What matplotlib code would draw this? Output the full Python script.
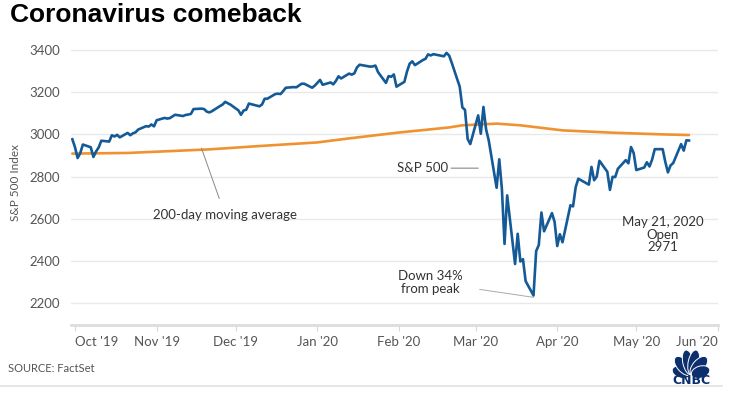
import matplotlib
matplotlib.use("Agg")
import matplotlib.pyplot as plt
from matplotlib.patches import Ellipse
import pandas as pd
import numpy as np

# S&P 500 daily values, Sep 30 2019 - May 21 2020 (last point = May 21 open)
sep19 = [2977]
oct19 = [2940, 2888, 2911, 2952, 2939, 2893, 2919, 2938, 2970, 2966, 2996, 2990,
         2998, 2986, 3007, 2996, 3005, 3010, 3023, 3039, 3037, 3047, 3038]
nov19 = [3067, 3078, 3075, 3077, 3085, 3093, 3087, 3092, 3094, 3097, 3120, 3122,
         3120, 3108, 3104, 3110, 3134, 3141, 3154, 3141]
dec19 = [3114, 3093, 3113, 3117, 3146, 3136, 3133, 3142, 3169, 3169, 3191, 3193,
         3191, 3205, 3221, 3224, 3223, 3240, 3240, 3221, 3231]
jan20 = [3258, 3235, 3246, 3237, 3253, 3275, 3265, 3288, 3283, 3289, 3317, 3330,
         3321, 3322, 3326, 3295, 3244, 3276, 3273, 3284, 3226]
feb20 = [3249, 3298, 3335, 3346, 3328, 3352, 3358, 3379, 3374, 3380, 3370, 3386,
         3373, 3338, 3226, 3128, 3116, 2979, 2954]
mar20 = [3090, 3003, 3130, 3024, 2972, 2747, 2882, 2741, 2481, 2711, 2386, 2529,
         2398, 2409, 2305, 2237, 2447, 2476, 2630, 2541, 2627, 2585]
apr20 = [2471, 2527, 2489, 2664, 2659, 2750, 2790, 2762, 2846, 2783, 2800, 2875,
         2823, 2737, 2799, 2798, 2837, 2878, 2863, 2940, 2912]
may20 = [2831, 2843, 2868, 2848, 2881, 2930, 2930, 2870, 2820, 2853, 2864, 2954,
         2923, 2972, 2971]

holidays = ["2019-11-28", "2019-12-25", "2020-01-01", "2020-01-20",
            "2020-02-17", "2020-04-10"]

# 200-day moving average, read at a few dates
ma_dates = ["2019-09-30", "2019-10-21", "2019-11-21", "2019-12-09", "2020-01-01",
            "2020-01-13", "2020-02-01", "2020-02-13", "2020-02-20", "2020-02-25",
            "2020-03-09", "2020-03-18", "2020-04-03", "2020-04-22", "2020-05-11",
            "2020-05-21"]
ma_vals = [2909, 2912, 2929, 2944, 2962, 2981, 3009, 3024, 3033, 3043,
           3051, 3043, 3019, 3008, 3000, 2997]

y_ticks = [2200, 2400, 2600, 2800, 3000, 3200, 3400]
month_ticks = ["2019-10-01", "2019-11-01", "2019-12-01", "2020-01-01", "2020-02-01",
               "2020-03-01", "2020-04-01", "2020-05-01", "2020-06-01"]
month_labels = ["Oct '19", "Nov '19", "Dec '19", "Jan '20", "Feb '20",
                "Mar '20", "Apr '20", "May '20", "Jun '20"]

spx = sep19 + oct19 + nov19 + dec19 + jan20 + feb20 + mar20 + apr20 + may20
days = pd.bdate_range("2019-09-30", "2020-05-21", freq="C", holidays=holidays)

plt.rcParams['font.family'] = ['Lato', 'DejaVu Sans']
grey = "#555555"

fig = plt.figure(figsize=(7.4, 3.99), dpi=100)
ax = fig.add_axes([71/740, 74/399, 647/740, 285.6/399])

ax.plot(pd.to_datetime(ma_dates), ma_vals, color="#f0922f", lw=1.9,
        solid_capstyle="round", zorder=3)
ax.plot(days, spx, color="#135a97", lw=1.9, solid_joinstyle="round", zorder=4)

ax.set_xlim(pd.Timestamp("2019-09-29 12:00"), pd.Timestamp("2020-06-01"))
ax.set_ylim(2097, 3450)
ax.set_yticks(y_ticks)
ax.yaxis.grid(True, color="#e9e9e9", lw=1)
ax.set_axisbelow(True)
ax.tick_params(axis="y", length=0, labelsize=9.5, labelcolor=grey, pad=8)
ax.set_xticks(pd.to_datetime(month_ticks))
ax.set_xticklabels(month_labels)
ax.tick_params(axis="x", length=4, color="#d8d8d8", labelsize=9.5,
               labelcolor=grey, pad=4)
xl = ax.get_xticklabels()
xl[0].set_horizontalalignment("left")
xl[-1].set_horizontalalignment("right")
for s in ["left", "right", "top"]:
    ax.spines[s].set_visible(False)
ax.spines["bottom"].set_color("#dddddd")
ax.spines["bottom"].set_linewidth(2)
ax.set_ylabel("S&P 500 Index", fontsize=8.5, color=grey, labelpad=6)

# annotations
ax.annotate("200-day moving average", xy=(pd.Timestamp("2019-11-18"), 2935),
            xytext=(pd.Timestamp("2019-11-27"), 2617), ha="center", va="center",
            fontsize=9.5, color="#333333",
            arrowprops=dict(arrowstyle="-", color="#888888", lw=0.7,
                            shrinkA=6, shrinkB=0))
ax.annotate("S&P 500", xy=(pd.Timestamp("2020-03-02"), 2840),
            xytext=(pd.Timestamp("2020-02-10"), 2840), ha="center", va="center",
            fontsize=9.5, color="#333333",
            arrowprops=dict(arrowstyle="-", color="#888888", lw=0.8,
                            shrinkA=24, shrinkB=0))
ax.annotate("Down 34%\nfrom peak", xy=(pd.Timestamp("2020-03-23"), 2228),
            xytext=(pd.Timestamp("2020-02-13"), 2300), ha="center", va="center",
            fontsize=9.5, color="#333333", linespacing=1.1,
            arrowprops=dict(arrowstyle="-", color="#aaaaaa", lw=0.7,
                            shrinkA=10, shrinkB=0))
ax.text(pd.Timestamp("2020-05-11"), 2525, "May 21, 2020\nOpen\n2971",
        ha="center", va="center", fontsize=9.5, color="#333333", linespacing=1.05)

fig.text(10/740, 1 - 15/399, "Coronavirus comeback", fontsize=19,
         fontweight="bold", family="Liberation Sans", va="center", ha="left")
fig.text(8/740, 1 - 369/399, "SOURCE: FactSet", fontsize=8, color=grey,
         va="center", ha="left")
fig.add_artist(plt.Line2D([0, 722/740], [1 - 386/399, 1 - 386/399],
                          color="#e2e2e2", lw=1.2))

# CNBC peacock
lg = fig.add_axes([668/740, 1 - 375/399, 46/740, 25/399])
lg.set_xlim(0, 46)
lg.set_ylim(0, 25)
lg.axis("off")
navy = "#0c2f6e"
for ang, ln, wd in [(163, 19, 12), (131, 23, 12), (102, 25, 11),
                    (78, 25, 11), (49, 23, 12), (17, 19, 12)]:
    r = ln / 2 + 0.5
    cx = 23 + r * np.cos(np.radians(ang))
    cy = 0 + r * np.sin(np.radians(ang))
    lg.add_patch(Ellipse((cx, cy), ln, wd, angle=ang, facecolor=navy,
                         edgecolor="white", lw=0.7, clip_on=False))
fig.text(691/740, 1 - 381/399, "CNBC", fontsize=9, fontweight="heavy",
         family="DejaVu Sans", color=navy, ha="center", va="center")

fig.savefig("out.png", dpi=100)
